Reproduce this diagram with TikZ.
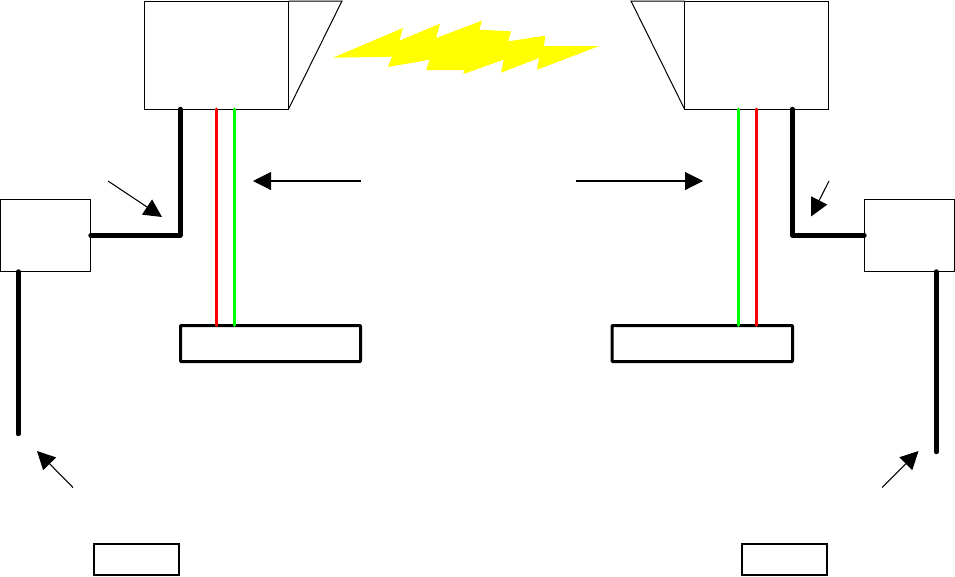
\documentclass[tikz,border=0pt]{standalone}
\usetikzlibrary{arrows.meta}
\tikzset{
  px/.style 2 args={minimum width=#1*0.75pt,minimum height=#2*0.75pt},
  basebox/.style={draw=black,rectangle,inner sep=0pt,outer sep=0pt,anchor=north west},
  thinbox/.style={basebox,line width=0.75pt},
  barbox/.style={basebox,line width=2.25pt,rounded corners=0.5pt},
  tagbox/.style={basebox,line width=1.5pt},
  cable/.style={draw=black,line width=3.3pt,line cap=round,line join=round},
  wire/.style={line width=2pt,line cap=round},
  pointer/.style={draw=black,line width=0.8pt,-{Triangle[length=13.5pt,width=13.5pt]}},
  wedge/.style={draw=black,line width=0.75pt,line join=miter},
}
\definecolor{wirered}{RGB}{255,0,0}
\definecolor{wiregreen}{RGB}{0,255,0}
\definecolor{boltyellow}{RGB}{255,255,0}
\begin{document}
\begin{tikzpicture}[x=0.75pt,y=-0.75pt]
\useasboundingbox (0,0) rectangle (955,576);
% lightning bolt
\fill[boltyellow] (333,57.7) -- (403,28) -- (399.3,40.7) -- (440,23.7) -- (436,38) -- (482,20.7) -- (479.3,29.7) -- (511,31.3) -- (508.3,41.3) -- (545.3,35.7) -- (544,46) -- (599.3,46) -- (537,69.7) -- (539,58) -- (501,72.7) -- (503.7,59.7) -- (463.3,74) -- (464.3,70) -- (426,70) -- (429.7,59.7) -- (388,67) -- (392,56.7) -- cycle;
% units
\node[thinbox,px={144}{108}] (lhead) at (144.5,1) {};
\node[thinbox,px={144}{108}] (rhead) at (684.5,1) {};
\node[thinbox,px={90}{72}] (lsmall) at (0.5,199.5) {};
\node[thinbox,px={90}{72}] (rsmall) at (864.5,199.5) {};
\node[barbox,px={180}{36}] (lbar) at (180.5,325.5) {};
\node[barbox,px={180.5}{36}] (rbar) at (612,325.5) {};
\node[tagbox,px={85.5}{31.5}] (ltag) at (93.5,543.5) {};
\node[tagbox,px={85.5}{31.5}] (rtag) at (741.5,543.5) {};
% wedges
\coordinate (lwedge) at (342,1);
\coordinate (rwedge) at (631,1);
\draw[wedge] (lhead.north east) -- (lwedge) -- (lhead.south east);
\draw[wedge] (rhead.north west) -- (rwedge) -- (rhead.south west);
% column guides
\coordinate (xlc) at (180.3,0);
\coordinate (xrc) at (792.3,0);
\coordinate (xlr) at (216.3,0);
\coordinate (xlg) at (234.3,0);
\coordinate (xrg) at (738.3,0);
\coordinate (xrr) at (756.3,0);
\coordinate (xla) at (18.3,0);
\coordinate (xra) at (936.3,0);
% cables
\coordinate (lend) at (18.3,434);
\coordinate (rend) at (936.3,452);
\draw[cable] (xlc |- lhead.south) |- (lsmall.east);
\draw[cable] (xrc |- rhead.south) |- (rsmall.west);
\draw[cable] (xla |- lsmall.south) -- (lend);
\draw[cable] (xra |- rsmall.south) -- (rend);
% wires
\draw[wire,wirered] (xlr |- lhead.south) -- (xlr |- lbar.north);
\draw[wire,wiregreen] (xlg |- lhead.south) -- (xlg |- lbar.north);
\draw[wire,wiregreen] (xrg |- rhead.south) -- (xrg |- rbar.north);
\draw[wire,wirered] (xrr |- rhead.south) -- (xrr |- rbar.north);
% pointers
\coordinate (a1s) at (108,181); \coordinate (a1e) at (162,217);
\coordinate (a2s) at (360.5,181); \coordinate (a2e) at (253,181);
\coordinate (a3s) at (576,181); \coordinate (a3e) at (703,181);
\coordinate (a4s) at (829,181); \coordinate (a4e) at (811,216.5);
\coordinate (a5s) at (73,487.5); \coordinate (a5e) at (37,451);
\coordinate (a6s) at (882,487.5); \coordinate (a6e) at (918.5,451);
\draw[pointer] (a1s) -- (a1e);
\draw[pointer] (a2s) -- (a2e);
\draw[pointer] (a3s) -- (a3e);
\draw[pointer] (a4s) -- (a4e);
\draw[pointer] (a5s) -- (a5e);
\draw[pointer] (a6s) -- (a6e);
\end{tikzpicture}
\end{document}
